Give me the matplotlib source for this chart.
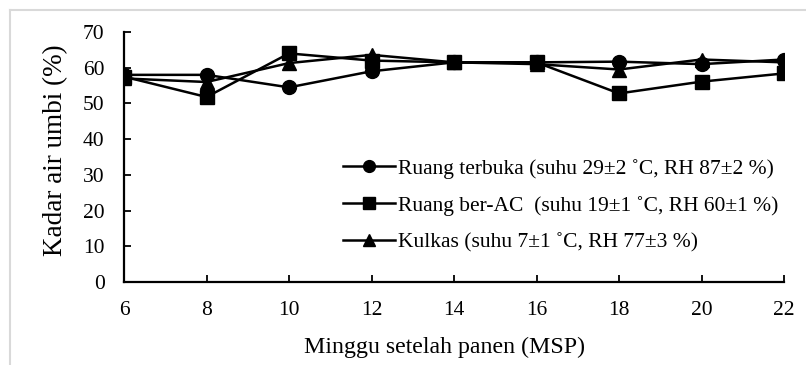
import matplotlib
matplotlib.use("Agg")
import matplotlib.pyplot as plt
from matplotlib.lines import Line2D

plt.rcParams['font.family'] = ['Liberation Serif', 'DejaVu Serif']

minggu = [6, 8, 10, 12, 14, 16, 18, 20, 22]
ruang_terbuka = [58.0, 58.0, 54.5, 59.0, 61.5, 61.5, 61.7, 61.0, 62.3]
ruang_ac = [57.5, 51.8, 64.0, 62.0, 61.5, 61.5, 52.8, 56.1, 58.4]
kulkas = [57.0, 56.0, 61.3, 63.6, 61.5, 61.0, 59.5, 62.3, 61.5]

labels = [
    "Ruang terbuka (suhu 29\u00b12 \u02daC, RH 87\u00b12 %)",
    "Ruang ber-AC  (suhu 19\u00b11 \u02daC, RH 60\u00b11 %)",
    "Kulkas (suhu 7\u00b11 \u02daC, RH 77\u00b13 %)",
]
yticks = [0, 10, 20, 30, 40, 50, 60, 70]

W, H = 806, 365
fig = plt.figure(figsize=(W / 100, H / 100), dpi=100)
ax = fig.add_axes([124 / W, 1 - 282 / H, (784 - 124) / W, (282 - 32) / H])

fs = 15.5
ax.plot(minggu, ruang_terbuka, color='black', lw=1.8, marker='o', ms=10, label=labels[0])
ax.plot(minggu, ruang_ac, color='black', lw=1.8, marker='s', ms=9.5, label=labels[1])
ax.plot(minggu, kulkas, color='black', lw=1.8, marker='^', ms=10, label=labels[2])

ax.set_xlim(6, 22)
ax.set_ylim(0, 70)
ax.set_xticks(minggu)
ax.set_yticks(yticks)
ax.tick_params(direction='in', length=5, width=1.3, labelsize=fs, pad=14)
ax.tick_params(axis='x', pad=14)
for s in ('top', 'right'):
    ax.spines[s].set_visible(False)
for s in ('left', 'bottom'):
    ax.spines[s].set_linewidth(1.6)
for lbl in ax.get_xticklabels() + ax.get_yticklabels():
    lbl.set_clip_on(False)

ax.set_xlabel("Minggu setelah panen (MSP)", fontsize=17.2, labelpad=12)
ax.xaxis.label.set_x((445 - 124) / 660)
ax.set_ylabel("Kadar air umbi (%)", fontsize=19.5)
ax.yaxis.set_label_coords(-0.085, (282 - 150) / 250)

leg = ax.legend(loc='upper left', bbox_to_anchor=((334 - 124) / 660, (282 - 150) / 250),
                frameon=False, fontsize=fs, handlelength=2.45, handletextpad=0.1,
                labelspacing=0.78, markerscale=0.85, borderaxespad=0)

# light frame around the chart area
fig.add_artist(Line2D([10 / W, 10 / W], [0, 1 - 10 / H], color='#d9d9d9', lw=1.5,
                      transform=fig.transFigure))
fig.add_artist(Line2D([10 / W, 1], [1 - 10 / H, 1 - 10 / H], color='#d9d9d9', lw=1.5,
                      transform=fig.transFigure))

fig.savefig("out.png", dpi=100)
